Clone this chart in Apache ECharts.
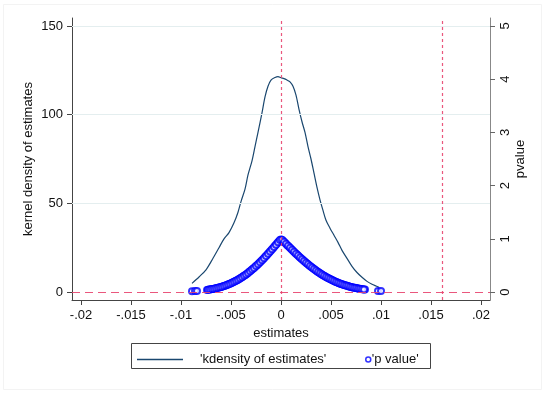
<!DOCTYPE html>
<html>
<head>
<meta charset="utf-8">
<script src="https://cdn.jsdelivr.net/npm/echarts@6/dist/echarts.min.js"></script>
<style>html,body{margin:0;padding:0;background:#fff}#c{width:550px;height:395px}</style>
</head>
<body>
<div id="c"></div>
<script>
// kernel density curve
var kdX = [-0.0089,-0.0082,-0.0075,-0.0068,-0.0062,-0.0057,-0.0052,-0.0047,-0.0043,-0.0040,-0.0036,-0.0033,-0.0029,-0.0026,-0.0023,-0.0019,-0.0016,-0.0013,-0.0010,-0.0006,-0.0003,0,0.0003,0.0006,0.0009,0.0012,0.0015,0.0018,0.0021,0.0024,0.0027,0.0030,0.0033,0.0036,0.0039,0.0042,0.0045,0.0049,0.0053,0.0057,0.0061,0.0066,0.0071,0.0076,0.0081,0.0086,0.0091,0.0095,0.0098];
var kdY = [4.9,8.5,12.5,19,25,30,33.5,39,45,51,58,66,74,82,90,101,110,116,119.5,121,121.5,120.8,120.3,119.5,118.5,116,111,103,96,90,82,75,67,59,52,46,40.5,36,32,28,23.5,19,14.5,11,8.3,6,4.4,3.4,2.7];
// p values
var pX = [-0.0089,-0.0086,-0.0084,-0.0074,-0.0072,-0.0070,-0.0068,-0.0066,-0.0064,-0.0062,-0.0060,-0.0058,-0.0056,-0.0054,-0.0052,-0.0050,-0.0048,-0.0046,-0.0044,-0.0042,-0.0040,-0.0038,-0.0036,-0.0034,-0.0032,-0.0030,-0.0028,-0.0026,-0.0024,-0.0022,-0.0020,-0.0018,-0.0016,-0.0014,-0.0012,-0.0010,-0.0008,-0.0006,-0.0004,-0.0002,0,
  0.0002,0.0004,0.0006,0.0008,0.0010,0.0012,0.0014,0.0016,0.0018,0.0020,0.0022,0.0024,0.0026,0.0028,0.0030,0.0032,0.0034,0.0036,0.0038,0.0040,0.0042,0.0044,0.0046,0.0048,0.0050,0.0052,0.0054,0.0056,0.0058,0.0060,0.0062,0.0064,0.0066,0.0068,0.0070,0.0072,0.0074,0.0076,0.0078,0.0080,0.0082,0.0084,0.0097,0.0100,
  -0.0073,-0.0071,-0.0069,-0.0067,-0.0065,-0.0063,-0.0061,-0.0059,-0.0057,-0.0055,-0.0053,-0.0051,-0.0049,-0.0047,-0.0045,-0.0043,-0.0041,-0.0039,-0.0037,-0.0035,-0.0033,-0.0031,-0.0029,-0.0027,-0.0025,-0.0023,-0.0021,-0.0019,-0.0017,-0.0015,-0.0013,-0.0011,-0.0009,-0.0007,-0.0005,-0.0003,-0.0001,
  0.0001,0.0003,0.0005,0.0007,0.0009,0.0011,0.0013,0.0015,0.0017,0.0019,0.0021,0.0023,0.0025,0.0027,0.0029,0.0031,0.0033,0.0035,0.0037,0.0039,0.0041,0.0043,0.0045,0.0047,0.0049,0.0051,0.0053,0.0055,0.0057,0.0059,0.0061,0.0063,0.0065,0.0067,0.0069,0.0071,0.0073,0.0075,0.0077,0.0079,0.0081,0.0083];
var pVal = [0.013,0.017,0.020,0.040,0.046,0.052,0.059,0.067,0.075,0.085,0.096,0.107,0.120,0.134,0.149,0.165,0.182,0.201,0.222,0.243,0.267,0.291,0.317,0.345,0.374,0.405,0.437,0.470,0.505,0.541,0.579,0.617,0.657,0.697,0.739,0.781,0.824,0.868,0.912,0.956,0.985,
  0.962,0.924,0.886,0.849,0.812,0.775,0.739,0.703,0.668,0.634,0.600,0.568,0.536,0.505,0.475,0.446,0.418,0.391,0.366,0.341,0.317,0.295,0.273,0.253,0.234,0.216,0.199,0.182,0.167,0.153,0.140,0.128,0.116,0.105,0.096,0.086,0.078,0.070,0.063,0.057,0.051,0.046,0.021,0.017,
  0.043,0.049,0.055,0.063,0.071,0.080,0.090,0.101,0.113,0.127,0.141,0.157,0.173,0.192,0.211,0.232,0.255,0.279,0.304,0.331,0.359,0.389,0.421,0.453,0.487,0.523,0.560,0.598,0.637,0.677,0.718,0.760,0.803,0.846,0.890,0.934,0.978,
  0.981,0.943,0.905,0.868,0.830,0.793,0.757,0.721,0.686,0.651,0.617,0.584,0.552,0.520,0.490,0.460,0.432,0.405,0.378,0.353,0.329,0.306,0.284,0.263,0.243,0.225,0.207,0.190,0.175,0.160,0.146,0.134,0.122,0.111,0.100,0.091,0.082,0.074,0.067,0.060,0.054,0.048];
var xTicks = [-0.02,-0.015,-0.01,-0.005,0,0.005,0.01,0.015,0.02];
var yTicks = [0,50,100,150];
var y2Ticks = [0,1,2,3,4,5];
var refX = [0,0.0161];
var gridY = [50,100,150];

function fmt(v){
  var s = String(Math.round(v*1000)/1000);
  return s.replace('0.', '.');
}
var kd = kdX.map(function(x,i){return [x,kdY[i]];});
var pv = pX.map(function(x,i){return [x,pVal[i]];});
var FONT = 'Liberation Sans, Arial, sans-serif';
var RED = '#e8456f';
var chart = echarts.init(document.getElementById('c'), null, {renderer:'canvas'});
chart.setOption({
  animation:false,
  backgroundColor:'#fff',
  textStyle:{fontFamily:FONT},
  grid:{left:72,right:60,top:18,bottom:95,containLabel:false},
  xAxis:{type:'value',min:-0.0209,max:0.0209,
    name:'estimates',nameLocation:'middle',nameGap:24,nameTextStyle:{fontSize:13,color:'#111',fontFamily:FONT},
    axisLine:{show:true,onZero:false,lineStyle:{color:'#444',width:1}},
    axisTick:{show:true,length:5,customValues:xTicks,lineStyle:{color:'#444'}},
    axisLabel:{customValues:xTicks,formatter:fmt,fontSize:13,color:'#111',margin:9,fontFamily:FONT},
    splitLine:{show:false}},
  yAxis:[{type:'value',min:-4.5,max:154.5,position:'left',
    name:'kernel density of estimates',nameLocation:'middle',nameGap:37,nameRotate:90,nameMoveOverlap:false,nameTextStyle:{fontSize:13,color:'#111',fontFamily:FONT},
    axisLine:{show:true,onZero:false,lineStyle:{color:'#444',width:1}},
    axisTick:{show:true,length:5,customValues:yTicks,lineStyle:{color:'#444'}},
    axisLabel:{customValues:yTicks,fontSize:13,color:'#111',margin:9,fontFamily:FONT},
    splitLine:{show:false}},
   {type:'value',min:-0.15,max:5.15,position:'right',
    name:'pvalue',nameLocation:'middle',nameGap:24,nameRotate:90,nameMoveOverlap:false,nameTextStyle:{fontSize:13,color:'#111',fontFamily:FONT},
    axisLine:{show:true,onZero:false,lineStyle:{color:'#888',width:1}},
    axisTick:{show:true,length:5,customValues:y2Ticks,lineStyle:{color:'#666'}},
    axisLabel:{customValues:y2Ticks,rotate:90,fontSize:13,color:'#111',margin:9,fontFamily:FONT},
    splitLine:{show:false}}],
  legend:[{left:132,top:348,itemWidth:46,itemHeight:12,
      data:[{name:"'kdensity of estimates'",icon:'path://M0,0h46v1.3h-46z'}],
      textStyle:{fontSize:13,color:'#111',fontFamily:FONT,padding:[0,0,0,12]}},
    {left:360,top:348,itemWidth:5,itemHeight:5,
      data:[{name:"'p value'",icon:'circle',itemStyle:{color:'#fff',borderColor:'#0000ff',borderWidth:1.5}}],
      textStyle:{fontSize:13,color:'#111',fontFamily:FONT,padding:[0,0,0,-4]}}],
  graphic:[
    {type:'rect',shape:{x:131.5,y:343.5,width:299,height:25},style:{fill:'none',stroke:'#444',lineWidth:1},silent:true},
    {type:'rect',shape:{x:3.5,y:4.5,width:538,height:385},style:{fill:'none',stroke:'#f3f3f3',lineWidth:1},silent:true,z:-1}
  ],
  series:[
    {name:"'kdensity of estimates'",type:'line',data:kd,yAxisIndex:0,showSymbol:false,smooth:0.3,
     lineStyle:{color:'#1a476f',width:1.2},itemStyle:{color:'#1a476f'},z:3},
    {name:"'p value'",type:'scatter',data:pv,yAxisIndex:1,symbol:'emptyCircle',symbolSize:6,
     itemStyle:{color:'#0000ff',borderColor:'#0000ff',borderWidth:2.4},z:4},
    {name:'grid',type:'line',data:[],yAxisIndex:0,z:1,
     markLine:{silent:true,symbol:'none',label:{show:false},animation:false,precision:6,
       lineStyle:{color:'#e4eeef',type:'solid',width:1},
       data:gridY.map(function(v){return {yAxis:v};})}},
    {name:'refy',type:'line',data:[],yAxisIndex:0,z:2,
     markLine:{silent:true,symbol:'none',label:{show:false},animation:false,precision:6,
       lineStyle:{color:RED,type:[8,5],width:1,opacity:0.9},
       data:[{yAxis:0}]}},
    {name:'refx',type:'line',data:[],yAxisIndex:0,z:2,
     markLine:{silent:true,symbol:'none',label:{show:false},animation:false,precision:6,
       lineStyle:{color:RED,type:[3,3],width:1.2,opacity:0.9},
       data:refX.map(function(v){return {xAxis:v};})}}
  ]
});
</script>
</body>
</html>
